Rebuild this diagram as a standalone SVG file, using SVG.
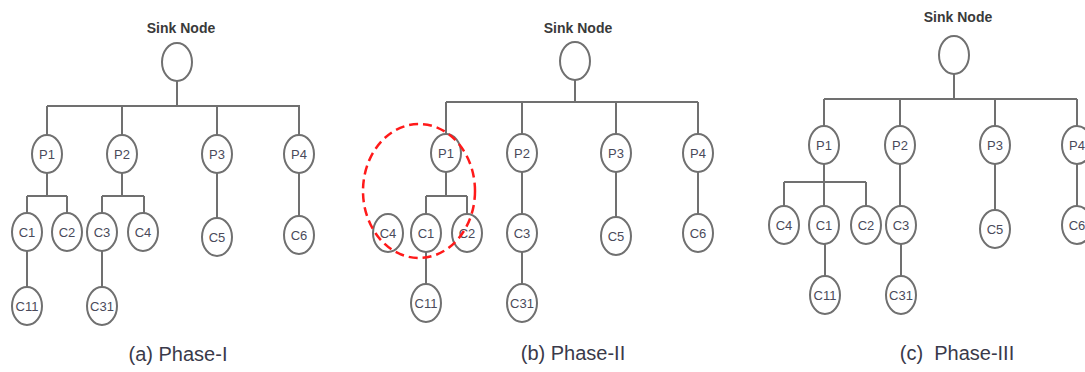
<svg xmlns="http://www.w3.org/2000/svg" width="1085" height="372" viewBox="0 0 1085 372">
<style>
.n{fill:#fff;stroke:#707070;stroke-width:2}
.t{font-family:"Liberation Sans",Arial,sans-serif;font-size:13px;fill:#4a4a5a;text-anchor:middle}
.s{font-family:"Liberation Sans",Arial,sans-serif;font-size:14px;font-weight:bold;fill:#3a3a3a;text-anchor:middle}
.cap{font-family:"Liberation Sans",Arial,sans-serif;font-size:20px;fill:#3a3a4a;text-anchor:middle}
#connectors path{fill:none;stroke:#707070;stroke-width:2}
</style>
<rect width="1085" height="372" fill="#fff"/>
<g id="connectors">
<path d="M177 81V106M47 106H300M47 106V135M122 106V135M217 106V135M299 106V135"/>
<path d="M47 173V196M27 196H67M27 196V213M67 196V213M27 251V287"/>
<path d="M122 173V196M102 196H144M102 196V213M144 196V213M102 251V287"/>
<path d="M217 173V218M299 173V216"/>
<path d="M575 80V102M446 102H698M446 102V134M522 102V134M616 102V134M698 102V134"/>
<path d="M446 172V196M426 196H467M426 196V214M467 196V214M426 252V284"/>
<path d="M522 172V214M522 252V284M616 172V217M698 172V214"/>
<path d="M954 74V99M824 99H1077M824 99V126M900 99V126M995 99V126M1077 99V126"/>
<path d="M824 164V182M784 182H866M784 182V206M824 182V206M866 182V206M825 244V276"/>
<path d="M900 164V206M901 244V276M995 164V210M1077 164V206"/>
</g>
<g id="phase1">
<g id="a-sink"><text class="s" x="181" y="33">Sink Node</text><ellipse class="n" cx="177" cy="62" rx="15" ry="19"/></g>
<g id="a-P1"><ellipse class="n" cx="47" cy="154" rx="15" ry="19"/><text class="t" x="47" y="159">P1</text></g>
<g id="a-P2"><ellipse class="n" cx="122" cy="154" rx="15" ry="19"/><text class="t" x="122" y="159">P2</text></g>
<g id="a-P3"><ellipse class="n" cx="217" cy="154" rx="15" ry="19"/><text class="t" x="217" y="159">P3</text></g>
<g id="a-P4"><ellipse class="n" cx="299" cy="154" rx="15" ry="19"/><text class="t" x="299" y="159">P4</text></g>
<g id="a-C1"><ellipse class="n" cx="27" cy="232" rx="15" ry="19"/><text class="t" x="27" y="237">C1</text></g>
<g id="a-C2"><ellipse class="n" cx="67" cy="232" rx="15" ry="19"/><text class="t" x="67" y="237">C2</text></g>
<g id="a-C3"><ellipse class="n" cx="102" cy="232" rx="15" ry="19"/><text class="t" x="102" y="237">C3</text></g>
<g id="a-C4"><ellipse class="n" cx="143" cy="232" rx="15" ry="19"/><text class="t" x="143" y="237">C4</text></g>
<g id="a-C5"><ellipse class="n" cx="217" cy="237" rx="15" ry="19"/><text class="t" x="217" y="242">C5</text></g>
<g id="a-C6"><ellipse class="n" cx="299" cy="235" rx="15" ry="19"/><text class="t" x="299" y="240">C6</text></g>
<g id="a-C11"><ellipse class="n" cx="27" cy="306" rx="15" ry="19"/><text class="t" x="27" y="311">C11</text></g>
<g id="a-C31"><ellipse class="n" cx="102" cy="306" rx="15" ry="19"/><text class="t" x="102" y="311">C31</text></g>
<text class="cap" x="178" y="361">(a) Phase-I</text>
</g>
<g id="phase2">
<g id="b-sink"><text class="s" x="578" y="33">Sink Node</text><ellipse class="n" cx="575" cy="61" rx="15" ry="19"/></g>
<g id="b-P1"><ellipse class="n" cx="446" cy="153" rx="15" ry="19"/><text class="t" x="446" y="158">P1</text></g>
<g id="b-P2"><ellipse class="n" cx="522" cy="153" rx="15" ry="19"/><text class="t" x="522" y="158">P2</text></g>
<g id="b-P3"><ellipse class="n" cx="616" cy="153" rx="15" ry="19"/><text class="t" x="616" y="158">P3</text></g>
<g id="b-P4"><ellipse class="n" cx="698" cy="153" rx="15" ry="19"/><text class="t" x="698" y="158">P4</text></g>
<g id="b-C4"><ellipse class="n" cx="388" cy="233" rx="15" ry="19"/><text class="t" x="388" y="238">C4</text></g>
<g id="b-C1"><ellipse class="n" cx="426" cy="233" rx="15" ry="19"/><text class="t" x="426" y="238">C1</text></g>
<g id="b-C2"><ellipse class="n" cx="467" cy="233" rx="15" ry="19"/><text class="t" x="467" y="238">C2</text></g>
<g id="b-C3"><ellipse class="n" cx="522" cy="233" rx="15" ry="19"/><text class="t" x="522" y="238">C3</text></g>
<g id="b-C5"><ellipse class="n" cx="616" cy="236" rx="15" ry="19"/><text class="t" x="616" y="241">C5</text></g>
<g id="b-C6"><ellipse class="n" cx="698" cy="233" rx="15" ry="19"/><text class="t" x="698" y="238">C6</text></g>
<g id="b-C11"><ellipse class="n" cx="426" cy="303" rx="15" ry="19"/><text class="t" x="426" y="308">C11</text></g>
<g id="b-C31"><ellipse class="n" cx="522" cy="303" rx="15" ry="19"/><text class="t" x="522" y="308">C31</text></g>
<ellipse id="b-highlight" cx="419" cy="191" rx="56" ry="67" fill="none" stroke="#ff1a1a" stroke-width="2.5" stroke-dasharray="9 5"/>
<text class="cap" x="573" y="360">(b) Phase-II</text>
</g>
<g id="phase3">
<g id="c-sink"><text class="s" x="958" y="22">Sink Node</text><ellipse class="n" cx="954" cy="55" rx="15" ry="19"/></g>
<g id="c-P1"><ellipse class="n" cx="824" cy="145" rx="15" ry="19"/><text class="t" x="824" y="150">P1</text></g>
<g id="c-P2"><ellipse class="n" cx="900" cy="145" rx="15" ry="19"/><text class="t" x="900" y="150">P2</text></g>
<g id="c-P3"><ellipse class="n" cx="995" cy="145" rx="15" ry="19"/><text class="t" x="995" y="150">P3</text></g>
<g id="c-P4"><ellipse class="n" cx="1077" cy="145" rx="15" ry="19"/><text class="t" x="1077" y="150">P4</text></g>
<g id="c-C4"><ellipse class="n" cx="784" cy="225" rx="15" ry="19"/><text class="t" x="784" y="230">C4</text></g>
<g id="c-C1"><ellipse class="n" cx="824" cy="225" rx="15" ry="19"/><text class="t" x="824" y="230">C1</text></g>
<g id="c-C2"><ellipse class="n" cx="866" cy="225" rx="15" ry="19"/><text class="t" x="866" y="230">C2</text></g>
<g id="c-C3"><ellipse class="n" cx="901" cy="225" rx="15" ry="19"/><text class="t" x="901" y="230">C3</text></g>
<g id="c-C5"><ellipse class="n" cx="995" cy="229" rx="15" ry="19"/><text class="t" x="995" y="234">C5</text></g>
<g id="c-C6"><ellipse class="n" cx="1077" cy="225" rx="15" ry="19"/><text class="t" x="1077" y="230">C6</text></g>
<g id="c-C11"><ellipse class="n" cx="825" cy="295" rx="15" ry="19"/><text class="t" x="825" y="300">C11</text></g>
<g id="c-C31"><ellipse class="n" cx="901" cy="295" rx="15" ry="19"/><text class="t" x="901" y="300">C31</text></g>
<text class="cap" x="957" y="360">(c)&#160; Phase-III</text>
</g>
</svg>
